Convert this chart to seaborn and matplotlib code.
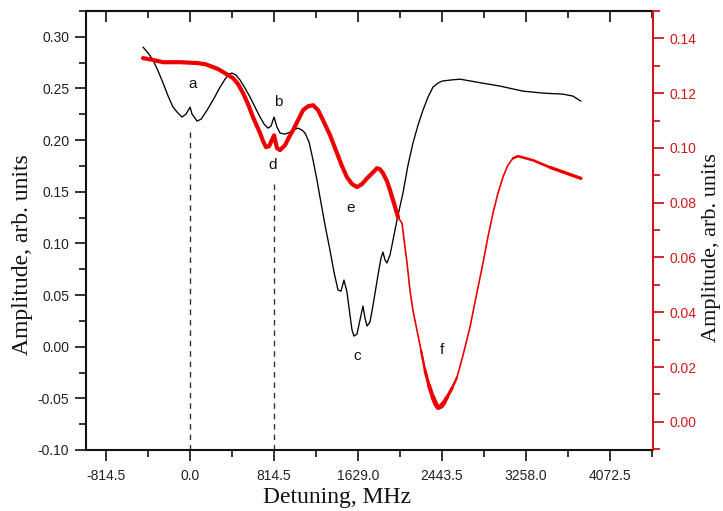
import numpy as np
import pandas as pd
import matplotlib
matplotlib.use("Agg")
import matplotlib.pyplot as plt
import seaborn as sns
from matplotlib.ticker import MultipleLocator

# ---------------- data ----------------
black_x = [-456, -407, -359, -310, -262, -213, -165, -126, -78, -39, 0, 19, 68, 107,
           165, 233, 291, 339, 378, 407, 446, 485, 533, 582, 630, 679, 718, 756,
           785, 814.5, 843, 873, 921, 970, 1018, 1047, 1086, 1115, 1154, 1193,
           1231, 1260, 1309, 1357, 1396, 1435, 1464, 1493, 1522, 1551, 1571, 1590,
           1619, 1648, 1677, 1697, 1716, 1745, 1775, 1823, 1852, 1871, 1891, 1910,
           1939, 1959, 2007, 2065, 2114, 2162, 2211, 2259, 2308, 2356, 2405, 2443,
           2521, 2618, 2783, 3006, 3229, 3423, 3617, 3714, 3791]
black_y = [0.290, 0.2842, 0.2774, 0.2668, 0.2552, 0.2426, 0.2319, 0.2271, 0.2223,
           0.2252, 0.2319, 0.2252, 0.2184, 0.2203, 0.2290, 0.2406, 0.2513, 0.2590,
           0.2639, 0.2649, 0.2629, 0.2581, 0.2503, 0.2416, 0.2319, 0.2223, 0.2155,
           0.2116, 0.2135, 0.2223, 0.2126, 0.2068, 0.2058, 0.2078, 0.2106, 0.2116,
           0.2097, 0.2068, 0.1981, 0.1806, 0.1613, 0.1448, 0.1177, 0.0935, 0.0722,
           0.0548, 0.0538, 0.0645, 0.0529, 0.0306, 0.0161, 0.0103, 0.0122, 0.0258,
           0.0394, 0.0277, 0.0200, 0.0239, 0.0403, 0.0694, 0.0858, 0.0916, 0.0839,
           0.0810, 0.0887, 0.0984, 0.1226, 0.1487, 0.1758, 0.1971, 0.2145, 0.2290,
           0.2416, 0.2513, 0.2552, 0.2571, 0.2581, 0.2590, 0.2561, 0.2523, 0.2474,
           0.2455, 0.2445, 0.2426, 0.2377]

red_x = [-456, -359, -262, -97, 68, 146, 223, 272, 320, 369, 417, 465, 514, 562,
         611, 649, 679, 708, 737, 766, 814.5, 843, 873, 921, 960, 999, 1047, 1096,
         1144, 1193, 1241, 1290, 1357, 1425, 1474, 1522, 1571, 1619, 1668, 1716,
         1765, 1813, 1842, 1871, 1910, 1939, 1978, 2017, 2056, 2085, 2104, 2133,
         2162, 2201, 2240, 2279, 2317, 2356, 2385, 2405, 2434, 2463, 2492, 2540,
         2589, 2647, 2715, 2773, 2841, 2889, 2938, 2986, 3035, 3083, 3132, 3180,
         3219, 3326, 3491, 3655, 3791]
red_y = [0.1328, 0.1321, 0.1313, 0.1313, 0.1310, 0.1306, 0.1295, 0.1288, 0.1277,
         0.1266, 0.1255, 0.1233, 0.1200, 0.1160, 0.1112, 0.1079, 0.1054, 0.1024,
         0.1003, 0.1006, 0.1046, 0.0999, 0.0992, 0.1010, 0.1039, 0.1065, 0.1101,
         0.1138, 0.1152, 0.1156, 0.1138, 0.1101, 0.1047, 0.0981, 0.0933, 0.0893,
         0.0868, 0.0857, 0.0868, 0.0889, 0.0907, 0.0926, 0.0922, 0.0908, 0.0878,
         0.0846, 0.0798, 0.0747, 0.0725, 0.0637, 0.0582, 0.0480, 0.0407, 0.0334,
         0.0261, 0.0188, 0.0133, 0.0089, 0.0063, 0.0052, 0.0056, 0.0070, 0.0089,
         0.0122, 0.0162, 0.0242, 0.0345, 0.0454, 0.0579, 0.0674, 0.0761, 0.0834,
         0.0893, 0.0937, 0.0962, 0.0970, 0.0966, 0.0955, 0.0929, 0.0907, 0.0889]

x_ticks = [-814.5, 0.0, 814.5, 1629.0, 2443.5, 3258.0, 4072.5]
x_tick_labels = ["-814.5", "0.0", "814.5", "1629.0", "2443.5", "3258.0", "4072.5"]
left_ticks = [-0.10, -0.05, 0.00, 0.05, 0.10, 0.15, 0.20, 0.25, 0.30]
left_tick_labels = ["-0.10", "-0.05", "0.00", "0.05", "0.10", "0.15", "0.20", "0.25", "0.30"]
right_ticks = [0.00, 0.02, 0.04, 0.06, 0.08, 0.10, 0.12, 0.14]
right_tick_labels = ["0.00", "0.02", "0.04", "0.06", "0.08", "0.10", "0.12", "0.14"]

peak_labels = ["a", "b", "c", "d", "e", "f"]
peak_label_x = [20, 853, 1619, 805, 1561, 2443]
peak_label_y = [0.254, 0.237, -0.009, 0.176, 0.134, -0.003]

marker_x = [0.0, 814.5]
marker_top = [0.2097, 0.1594]

x_label = "Detuning, MHz"
y_label = "Amplitude, arb. units"

# ---------------- styling ----------------
sns.set_style("ticks")
plt.rcParams["font.family"] = ["Liberation Sans", "DejaVu Sans"]
SERIF = ["Liberation Serif", "DejaVu Serif"]

RED_AX = "#d01818"
RED_LINE = "#ee0000"

fig = plt.figure(figsize=(7.23, 5.11), dpi=100)
ax = fig.add_axes([0.1189, 0.1194, 0.7842, 0.8591])

df_black = pd.DataFrame({"Detuning": black_x, "Amplitude": black_y})
df_red = pd.DataFrame({"Detuning": red_x, "Amplitude": red_y})

sns.lineplot(data=df_black, x="Detuning", y="Amplitude", ax=ax, color="black",
             linewidth=0.95, estimator=None, sort=False)

ax.vlines(marker_x, -0.10, marker_top, colors="#333333", linestyles=(0, (4, 3.5)),
          linewidth=1.0)

for lab, lx, ly in zip(peak_labels, peak_label_x, peak_label_y):
    ax.text(lx, ly, lab, ha="center", va="center", fontsize=11, color="#111111")

ax.set_xlim(-1010, 4490)
ax.set_ylim(-0.10, 0.325)
ax.set_xticks(x_ticks, x_tick_labels)
ax.xaxis.set_minor_locator(MultipleLocator(407.25))
ax.set_yticks(left_ticks, left_tick_labels)
ax.yaxis.set_minor_locator(MultipleLocator(0.025))
ax.tick_params(axis="both", which="major", direction="out", length=8, width=1.3,
               labelsize=10, colors="#222222", pad=4)
ax.tick_params(axis="both", which="minor", direction="out", length=5, width=1.3,
               colors="#222222")
ax.tick_params(axis="x", which="major", pad=6)
for s in ["left", "bottom", "top"]:
    ax.spines[s].set_linewidth(1.5)
    ax.spines[s].set_color("#111111")
ax.spines["right"].set_visible(False)
ax.spines["top"].set_visible(True)

ax.set_xlabel(x_label, family=SERIF, fontsize=17, color="#111111")
ax.set_ylabel(y_label, family=SERIF, fontsize=17, color="#111111")
ax.xaxis.set_label_coords(0.442, -0.084)
ax.yaxis.set_label_coords(-0.094, 0.444)

sec = ax.secondary_xaxis("top")
sec.set_xticks(x_ticks)
sec.xaxis.set_minor_locator(MultipleLocator(407.25))
sec.tick_params(axis="x", which="major", direction="in", length=8, width=1.3,
                labeltop=False, colors="#222222")
sec.tick_params(axis="x", which="minor", direction="in", length=5, width=1.3,
                colors="#222222")
sec.set_xticklabels([])
sec.spines["top"].set_linewidth(1.5)

ax2 = ax.twinx()
sns.lineplot(data=df_red, x="Detuning", y="Amplitude", ax=ax2, color=RED_LINE,
             linewidth=1.2, estimator=None, sort=False)
# noisier (thicker) stretches of the red trace, widening gradually
for lo, hi, w in [(-500, 2030, 3.0), (2240, 2589, 1.7), (2279, 2540, 2.3),
                  (2317, 2492, 2.9), (2356, 2463, 3.4),
                  (3100, 3800, 1.8), (3400, 3800, 2.3)]:
    seg = df_red[(df_red["Detuning"] >= lo) & (df_red["Detuning"] <= hi)]
    ax2.plot(seg["Detuning"], seg["Amplitude"], color=RED_LINE, linewidth=w,
             solid_capstyle="round", solid_joinstyle="round")

ax2.set_ylim(-0.0103, 0.150)
ax2.set_yticks(right_ticks, right_tick_labels)
ax2.yaxis.set_minor_locator(MultipleLocator(0.01))
ax2.tick_params(axis="y", which="major", direction="out", length=8, width=1.3,
                labelsize=10, colors=RED_AX, pad=4)
ax2.tick_params(axis="y", which="minor", direction="out", length=5, width=1.3,
                colors=RED_AX)
for s in ["left", "bottom", "top"]:
    ax2.spines[s].set_visible(False)
ax2.spines["right"].set_visible(True)
ax2.spines["right"].set_color(RED_AX)
ax2.spines["right"].set_linewidth(1.5)
ax2.set_xlabel("")
ax2.set_ylabel(y_label, family=SERIF, fontsize=16, color="#111111")
ax2.yaxis.set_label_coords(1.087, 0.462)

fig.savefig("out.png", dpi=100)
